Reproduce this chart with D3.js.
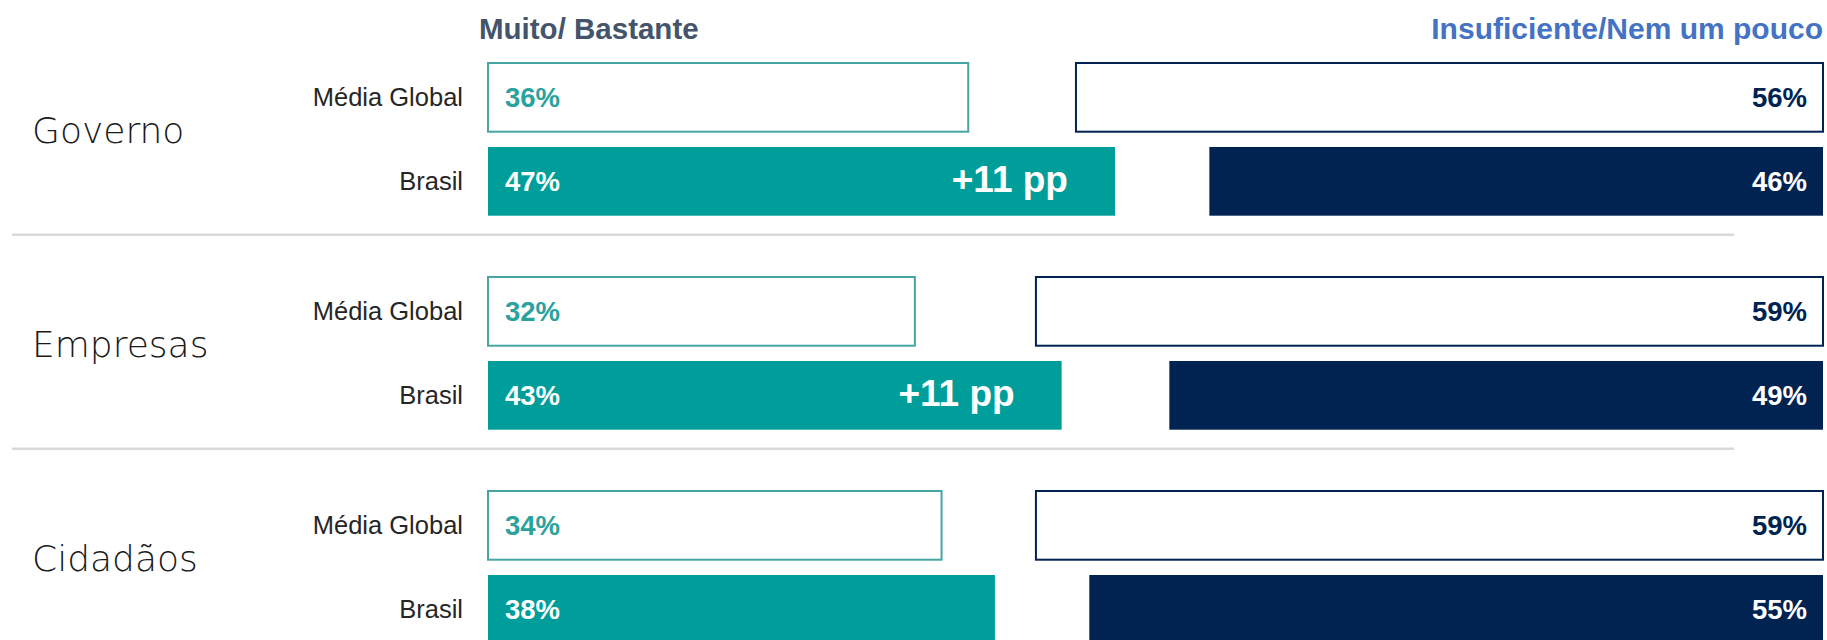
<!DOCTYPE html>
<html>
<head>
<meta charset="utf-8">
<script src="https://cdn.jsdelivr.net/npm/d3@7"></script>
<style>
  body { margin: 0; background: #fff; }
  svg { display: block; }
</style>
</head>
<body>
<div class="container"></div>
<script>
// dados
const grupos = ['Governo', 'Empresas', 'Cidadãos'];
const linhas = ['Média Global', 'Brasil'];
const muitoGlobal = [36, 32, 34];
const muitoBrasil = [47, 43, 38];
const insufGlobal = [56, 59, 59];
const insufBrasil = [46, 49, 55];
const destaque = ['+11 pp', '+11 pp', ''];
const titulos = ['Muito/ Bastante', 'Insuficiente/Nem um pouco'];

const width = 1827;
const height = 640;
const leftStart = 488;
const rightEnd = 1823;

const teal = '#009e9a';
const tealLine = '#45a6a3';
const navy = '#002352';

const x = d3.scaleLinear().domain([0, 100]).range([0, 1334]);
const yGrupo = d3.scalePoint().domain(grupos).range([63, 491]);
const yLinha = d3.scaleBand().domain(linhas).range([0, 152.7]).paddingInner(0.182);
const bw = yLinha.bandwidth();

const svg = d3.select('.container')
  .append('svg')
  .attr('width', width)
  .attr('height', height);

// titulos
svg.append('text')
  .attr('x', 479).attr('y', 39)
  .attr('font-family', 'Liberation Sans, Arial, sans-serif')
  .attr('font-weight', 'bold')
  .attr('font-size', 29.5)
  .attr('fill', '#44546a')
  .text(titulos[0]);

svg.append('text')
  .attr('x', rightEnd).attr('y', 39)
  .attr('text-anchor', 'end')
  .attr('font-family', 'Liberation Sans, Arial, sans-serif')
  .attr('font-weight', 'bold')
  .attr('font-size', 30)
  .attr('fill', '#4472c4')
  .text(titulos[1]);

const rows = [];
grupos.forEach((g, i) => {
  rows.push({ g, i, linha: 'Média Global', muito: muitoGlobal[i], insuf: insufGlobal[i] });
  rows.push({ g, i, linha: 'Brasil', muito: muitoBrasil[i], insuf: insufBrasil[i] });
});
const isGlobal = d => d.linha === 'Média Global';
const yRow = d => yGrupo(d.g) + yLinha(d.linha);

// separadores
svg.selectAll('.sep')
  .data(grupos.slice(0, -1))
  .enter()
  .append('line')
  .attr('class', 'sep')
  .attr('x1', 12).attr('x2', 1734)
  .attr('y1', g => yGrupo(g) + yLinha('Brasil') + bw + 19)
  .attr('y2', g => yGrupo(g) + yLinha('Brasil') + bw + 19)
  .attr('stroke', '#d9d9d9')
  .attr('stroke-width', 2.5);

// nomes dos grupos
svg.selectAll('.grupo')
  .data(grupos)
  .enter()
  .append('text')
  .attr('class', 'grupo')
  .attr('x', 32)
  .attr('y', g => yGrupo(g) + 80)
  .attr('font-family', 'DejaVu Sans, sans-serif')
  .attr('font-weight', 300)
  .attr('font-size', 36)
  .attr('fill', '#1a1a1a')
  .text(g => g);

// rotulos das linhas
svg.selectAll('.linha')
  .data(rows)
  .enter()
  .append('text')
  .attr('class', 'linha')
  .attr('x', 463)
  .attr('y', d => yRow(d) + 43)
  .attr('text-anchor', 'end')
  .attr('font-family', 'Liberation Sans, Arial, sans-serif')
  .attr('font-size', 25.5)
  .attr('fill', '#262626')
  .text(d => d.linha);

// barras muito/bastante
svg.selectAll('.muito')
  .data(rows)
  .enter()
  .append('rect')
  .attr('class', 'muito')
  .attr('x', leftStart)
  .attr('y', yRow)
  .attr('width', d => x(d.muito))
  .attr('height', bw)
  .attr('fill', d => isGlobal(d) ? '#fff' : teal)
  .attr('stroke', d => isGlobal(d) ? tealLine : 'none')
  .attr('stroke-width', 2);

// barras insuficiente
svg.selectAll('.insuf')
  .data(rows)
  .enter()
  .append('rect')
  .attr('class', 'insuf')
  .attr('x', d => rightEnd - x(d.insuf))
  .attr('y', yRow)
  .attr('width', d => x(d.insuf))
  .attr('height', bw)
  .attr('fill', d => isGlobal(d) ? '#fff' : navy)
  .attr('stroke', d => isGlobal(d) ? navy : 'none')
  .attr('stroke-width', 2);

// valores
svg.selectAll('.vmuito')
  .data(rows)
  .enter()
  .append('text')
  .attr('x', leftStart + 17)
  .attr('y', d => yRow(d) + 44)
  .attr('font-family', 'Liberation Sans, Arial, sans-serif')
  .attr('font-weight', 'bold')
  .attr('font-size', 27.5)
  .attr('fill', d => isGlobal(d) ? '#2aa29e' : '#fff')
  .text(d => d.muito + '%');

svg.selectAll('.vinsuf')
  .data(rows)
  .enter()
  .append('text')
  .attr('x', rightEnd - 16)
  .attr('y', d => yRow(d) + 44)
  .attr('text-anchor', 'end')
  .attr('font-family', 'Liberation Sans, Arial, sans-serif')
  .attr('font-weight', 'bold')
  .attr('font-size', 27.5)
  .attr('fill', d => isGlobal(d) ? navy : '#fff')
  .text(d => d.insuf + '%');

// destaque +pp
svg.selectAll('.destaque')
  .data(rows.filter(d => !isGlobal(d) && destaque[d.i]))
  .enter()
  .append('text')
  .attr('x', d => leftStart + x(d.muito) - 47)
  .attr('y', d => yRow(d) + 45)
  .attr('text-anchor', 'end')
  .attr('font-family', 'Liberation Sans, Arial, sans-serif')
  .attr('font-weight', 'bold')
  .attr('font-size', 37)
  .attr('fill', '#fff')
  .text(d => destaque[d.i]);
</script>
</body>
</html>
